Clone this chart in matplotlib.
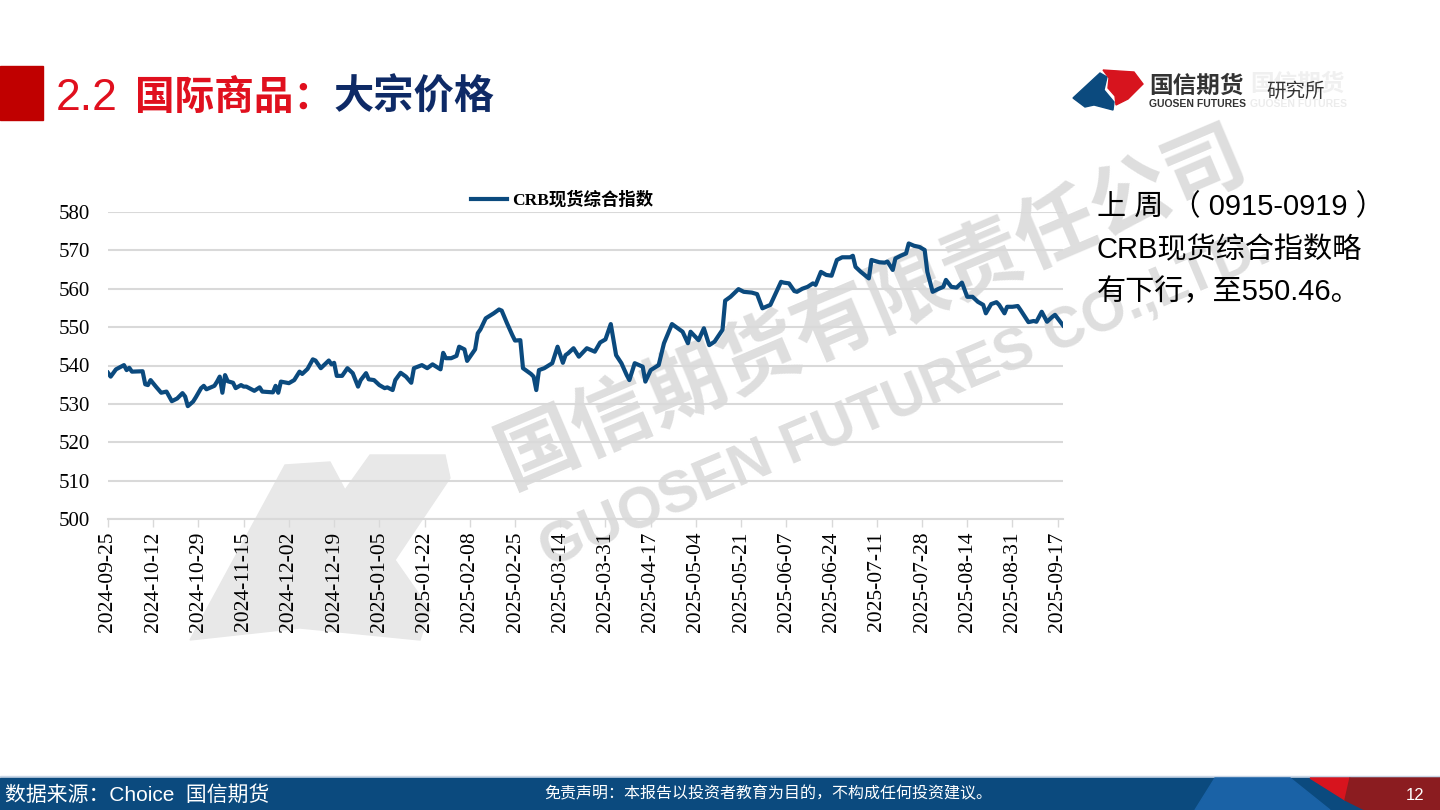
import matplotlib
matplotlib.use('Agg')
from matplotlib import pyplot as plt
from matplotlib.patches import Polygon, Rectangle
import numpy as np
import pandas as pd

plt.rcParams['font.family'] = ['Liberation Sans', 'Noto Sans CJK SC', 'DejaVu Sans']

# CRB spot index
dates = [
    '2024-09-25', '2024-09-26', '2024-09-28', '2024-10-01', '2024-10-02', '2024-10-03', '2024-10-04',
    '2024-10-08', '2024-10-09', '2024-10-10', '2024-10-11', '2024-10-13', '2024-10-15', '2024-10-17',
    '2024-10-19', '2024-10-21', '2024-10-23', '2024-10-24', '2024-10-25', '2024-10-27', '2024-10-28',
    '2024-10-30', '2024-10-31', '2024-11-01', '2024-11-04', '2024-11-05', '2024-11-06', '2024-11-07',
    '2024-11-08', '2024-11-09', '2024-11-11', '2024-11-12', '2024-11-14', '2024-11-15', '2024-11-16',
    '2024-11-19', '2024-11-21', '2024-11-22', '2024-11-26', '2024-11-27', '2024-11-28', '2024-11-29',
    '2024-12-02', '2024-12-04', '2024-12-06', '2024-12-07', '2024-12-09', '2024-12-11', '2024-12-12',
    '2024-12-14', '2024-12-17', '2024-12-18', '2024-12-19', '2024-12-20', '2024-12-22', '2024-12-24',
    '2024-12-26', '2024-12-28', '2024-12-29', '2024-12-31', '2025-01-01', '2025-01-03', '2025-01-05',
    '2025-01-07', '2025-01-08', '2025-01-10', '2025-01-11', '2025-01-13', '2025-01-15', '2025-01-17',
    '2025-01-18', '2025-01-21', '2025-01-23', '2025-01-25', '2025-01-28', '2025-01-29', '2025-01-30',
    '2025-02-01', '2025-02-03', '2025-02-04', '2025-02-06', '2025-02-07', '2025-02-10', '2025-02-11',
    '2025-02-12', '2025-02-14', '2025-02-17', '2025-02-19', '2025-02-20', '2025-02-22', '2025-02-24',
    '2025-02-25', '2025-02-27', '2025-02-28', '2025-03-03', '2025-03-04', '2025-03-05', '2025-03-06',
    '2025-03-08', '2025-03-11', '2025-03-13', '2025-03-15', '2025-03-16', '2025-03-17', '2025-03-19',
    '2025-03-21', '2025-03-24', '2025-03-27', '2025-03-29', '2025-03-31', '2025-04-02', '2025-04-04',
    '2025-04-06', '2025-04-08', '2025-04-09', '2025-04-11', '2025-04-14', '2025-04-15', '2025-04-17',
    '2025-04-20', '2025-04-22', '2025-04-25', '2025-04-28', '2025-04-29', '2025-05-01', '2025-05-02',
    '2025-05-05', '2025-05-07', '2025-05-09', '2025-05-11', '2025-05-14', '2025-05-15', '2025-05-17',
    '2025-05-20', '2025-05-22', '2025-05-25', '2025-05-27', '2025-05-29', '2025-06-01', '2025-06-05',
    '2025-06-06', '2025-06-08', '2025-06-10', '2025-06-11', '2025-06-13', '2025-06-15', '2025-06-17',
    '2025-06-18', '2025-06-20', '2025-06-22', '2025-06-24', '2025-06-26', '2025-06-28', '2025-07-01',
    '2025-07-02', '2025-07-03', '2025-07-05', '2025-07-08', '2025-07-09', '2025-07-12', '2025-07-14',
    '2025-07-15', '2025-07-17', '2025-07-18', '2025-07-20', '2025-07-22', '2025-07-23', '2025-07-25',
    '2025-07-27', '2025-07-29', '2025-07-30', '2025-08-01', '2025-08-03', '2025-08-05', '2025-08-06',
    '2025-08-08', '2025-08-10', '2025-08-12', '2025-08-14', '2025-08-16', '2025-08-18', '2025-08-20',
    '2025-08-21', '2025-08-23', '2025-08-25', '2025-08-26', '2025-08-28', '2025-08-29', '2025-08-31',
    '2025-09-02', '2025-09-03', '2025-09-06', '2025-09-08', '2025-09-09', '2025-09-11', '2025-09-13',
    '2025-09-15', '2025-09-16', '2025-09-19',
]
crb = [
    538.1, 537.1, 539.0, 540.1, 538.8, 539.4, 538.4,
    538.5, 535.1, 534.9, 536.2, 534.5, 532.9, 533.2,
    530.7, 531.4, 532.8, 531.9, 529.4, 530.6, 531.7,
    534.1, 534.7, 533.8, 534.7, 535.8, 537.1, 532.9,
    537.5, 535.9, 535.5, 534.1, 534.9, 534.5, 534.5,
    533.4, 534.3, 533.2, 533.0, 534.7, 532.9, 535.8,
    535.4, 536.2, 538.4, 537.8, 539.1, 541.6, 541.3,
    539.3, 541.3, 540.3, 540.7, 537.3, 537.3, 539.3,
    538.0, 534.5, 536.2, 538.0, 536.4, 536.2, 534.9,
    534.1, 534.3, 533.6, 536.2, 538.1, 537.1, 535.5,
    539.3, 540.1, 539.3, 540.3, 539.0, 543.3, 541.9,
    541.9, 542.5, 544.9, 544.2, 541.2, 544.2, 548.4,
    549.4, 552.3, 553.6, 554.6, 554.3, 551.0, 547.9,
    546.5, 546.6, 539.3, 537.8, 537.1, 533.6, 538.8,
    539.3, 540.6, 544.9, 540.7, 542.7, 543.2, 544.5,
    542.3, 544.5, 543.6, 546.0, 546.8, 550.8, 542.7,
    540.6, 537.5, 536.2, 540.6, 539.7, 535.8, 538.8,
    540.1, 545.8, 550.8, 549.3, 548.8, 545.8, 548.8,
    546.6, 549.7, 545.3, 546.2, 549.3, 556.9, 557.9,
    559.9, 559.2, 559.0, 558.6, 554.9, 555.8, 561.8,
    561.6, 561.4, 559.4, 559.2, 560.0, 560.5, 561.4,
    561.0, 564.4, 563.6, 563.4, 567.5, 568.2, 568.2,
    568.6, 565.7, 564.4, 562.7, 567.5, 566.9, 566.8,
    567.1, 564.9, 567.9, 568.6, 569.2, 571.8, 571.2,
    570.9, 570.1, 564.4, 559.2, 559.9, 560.5, 562.3,
    560.5, 560.3, 561.6, 557.9, 557.9, 556.6, 555.8,
    553.6, 556.0, 556.5, 555.8, 553.6, 555.3, 555.3,
    555.5, 554.5, 551.3, 551.6, 551.4, 554.0, 551.4,
    552.7, 553.2, 550.46,
]
series_name = 'CRB现货综合指数'
y_ticks = [500, 510, 520, 530, 540, 550, 560, 570, 580]
tick_start, tick_end, tick_step = '2024-09-25', '2025-09-17', '17D'

W, H = 1440, 810
fig = plt.figure(figsize=(W / 100, H / 100), dpi=100)

# background layer in pixel coordinates for decorations
bg = fig.add_axes([0, 0, 1, 1], zorder=0)
bg.set_xlim(0, W)
bg.set_ylim(H, 0)
bg.axis('off')

# title
bg.add_patch(Rectangle((0, 66), 43, 54, color='#c00000'))
bg.text(56, 98, '2.2', fontsize=32, color='#e0101e', va='center', ha='left',
        family=['Liberation Sans'])
bg.text(135, 97, '国际商品：', fontsize=28.5, color='#e0101e', va='center', ha='left',
        fontweight='bold', family=['Noto Sans CJK SC'])
bg.text(334, 97, '大宗价格', fontsize=29, color='#0e2a66', va='center', ha='left',
        fontweight='bold', family=['Noto Sans CJK SC'])

# logo
bg.add_patch(Polygon([(1073, 98), (1100, 73), (1107, 77), (1104, 90), (1114, 102),
                      (1113, 110), (1094, 105), (1085, 107)], color='#0b4a7e'))
bg.add_patch(Polygon([(1103, 70), (1134, 72), (1143, 84), (1128, 99), (1116, 105),
                      (1115, 96), (1108, 88), (1109, 78)], color='#d7141e'))
bg.text(1250, 84, '国信期货', fontsize=17, color='#f0f0f0', va='center', ha='left',
        fontweight='bold', family=['Noto Sans CJK SC'])
bg.text(1250, 104, 'GUOSEN FUTURES', fontsize=7.5, color='#ececec', va='center', ha='left',
        fontweight='bold')
bg.text(1149, 86, '国信期货', fontsize=17, color='#333333', va='center', ha='left',
        fontweight='bold', family=['Noto Sans CJK SC'])
bg.text(1149, 104, 'GUOSEN FUTURES', fontsize=7.5, color='#333333', va='center', ha='left',
        fontweight='bold')
bg.text(1266, 91, '研究所', fontsize=14, color='#333333', va='center', ha='left',
        family=['Noto Sans CJK SC'])

# watermark
bg.add_patch(Polygon([(190, 640), (285, 465), (330, 462), (345, 490), (370, 455), (445, 455),
                      (450, 478), (395, 560), (430, 610), (420, 640), (300, 628)],
                     color='#e8e8e8', zorder=0))
bg.text(872, 308, '国信期货有限责任公司', fontsize=58, color='#dedede', rotation=23,
        va='center', ha='center', fontweight='bold', family=['Noto Sans CJK SC'], zorder=0)
bg.text(905, 400, 'GUOSEN FUTURES CO.,LTD.', fontsize=41, color='#dedede', rotation=23,
        va='center', ha='center', fontweight='bold', zorder=0)

# commentary on the right
txt_kw = dict(fontsize=21, color='#000000', va='center', ha='left',
              family=['Liberation Sans', 'Noto Sans CJK SC'])
bg.text(1097, 207, '上 周 （ 0915-0919 ）', **txt_kw)
bg.text(1097, 250, 'CRB现货综合指数略', **txt_kw)
bg.text(1097, 292, '有下行，至550.46。', **txt_kw)

# footer bar
bg.add_patch(Rectangle((0, 776), W, 2, color='#c9d6e6'))
bg.add_patch(Rectangle((0, 778), W, 32, color='#0b4a7e'))
bg.add_patch(Polygon([(1195, 810), (1215, 778), (1290, 778), (1330, 810)], color='#1a62a6'))
bg.add_patch(Polygon([(1310, 778), (1350, 778), (1345, 800)], color='#d7141e'))
bg.add_patch(Polygon([(1350, 778), (W, 778), (W, 810), (1365, 810), (1345, 800)], color='#8b1c20'))
bg.text(5, 795, '数据来源：Choice  国信期货', fontsize=15, color='white', va='center', ha='left',
        family=['Liberation Sans', 'Noto Sans CJK SC'])
bg.text(768, 794, '免责声明：本报告以投资者教育为目的，不构成任何投资建议。', fontsize=11.5,
        color='white', va='center', ha='center', family=['Noto Sans CJK SC'])
bg.text(1415, 795, '12', fontsize=12, color='white', va='center', ha='center')

# chart
x = pd.to_datetime(dates)
ax = fig.add_axes([108 / W, 1 - 519 / H, (1063 - 108) / W, (519 - 212) / H], zorder=1)
ax.patch.set_alpha(0)
ax.plot(x, crb, color='#0b4a7e', lw=3, label=series_name, solid_joinstyle='round', zorder=3)

ax.set_ylim(500, 580)
ax.set_yticks(y_ticks)
ax.set_xlim(pd.Timestamp(dates[0]), pd.Timestamp(dates[-1]))
ticks = pd.date_range(tick_start, tick_end, freq=tick_step)
ax.set_xticks(ticks)
ax.set_xticklabels([t.strftime('%Y-%m-%d') for t in ticks], rotation=90)

ax.grid(axis='y', color='#d9d9d9', lw=1.5, zorder=0)
for s in ['top', 'right', 'left']:
    ax.spines[s].set_visible(False)
ax.spines['bottom'].set_color('#d9d9d9')
ax.spines['bottom'].set_linewidth(1.5)
ax.tick_params(axis='y', length=0, pad=13, labelsize=15)
ax.tick_params(axis='x', length=6, width=1, color='#d9d9d9', pad=3, labelsize=15.5)
for lab in ax.get_xticklabels() + ax.get_yticklabels():
    lab.set_family(['Liberation Serif'])

leg = ax.legend(loc='center', bbox_to_anchor=(562 / W, 1 - 200 / H), bbox_transform=fig.transFigure,
                frameon=False, handlelength=2.1, handletextpad=0.25,
                prop={'family': ['Liberation Serif', 'Noto Sans CJK SC'], 'weight': 'bold', 'size': 12.5})

fig.savefig('out.png', dpi=100)
